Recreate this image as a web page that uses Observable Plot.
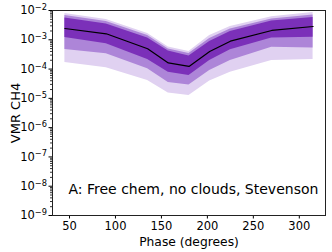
<!DOCTYPE html>
<html>
<head>
<meta charset="utf-8">
<script src="https://cdn.jsdelivr.net/npm/d3@7"></script>
<script src="https://cdn.jsdelivr.net/npm/@observablehq/plot@0.6"></script>
<style>
  html, body { margin: 0; padding: 0; background: #fff; }
  #chart svg { display: block; }
</style>
</head>
<body>
<div id="chart"></div>
<script>
// Phase (degrees)
const phase  = [45, 90, 135, 157.5, 180, 202.5, 225, 270, 315];
// VMR CH4 retrieved: median and credible intervals
const median = [2.43e-3, 1.60e-3, 4.93e-4, 1.62e-4, 1.23e-4, 3.99e-4, 8.96e-4, 2.08e-3, 2.84e-3];
const hi1    = [5.55e-3, 3.46e-3, 1.15e-3, 4.15e-4, 2.80e-4, 8.75e-4, 1.92e-3, 4.38e-3, 5.77e-3];
const lo1    = [1.20e-3, 7.30e-4, 2.13e-4, 7.80e-5, 6.05e-5, 1.97e-4, 4.56e-4, 1.15e-3, 1.23e-3];
const hi2    = [6.75e-3, 4.21e-3, 1.40e-3, 4.85e-4, 3.40e-4, 1.11e-3, 2.34e-3, 5.13e-3, 7.00e-3];
const lo2    = [4.67e-4, 3.33e-4, 1.02e-4, 3.49e-5, 2.86e-5, 8.96e-5, 1.97e-4, 5.59e-4, 5.25e-4];
const hi3    = [7.90e-3, 4.93e-3, 1.64e-3, 5.68e-4, 3.99e-4, 1.40e-3, 2.84e-3, 6.10e-3, 8.50e-3];
const lo3    = [1.68e-4, 1.11e-4, 4.08e-5, 1.53e-5, 1.26e-5, 3.93e-5, 7.83e-5, 1.97e-4, 2.13e-4];

const xTicks = [50, 100, 150, 200, 250, 300];
const yTicks = [1e-9, 1e-8, 1e-7, 1e-6, 1e-5, 1e-4, 1e-3, 1e-2];
const yTickExponents = ["−9", "−8", "−7", "−6", "−5", "−4", "−3", "−2"];
const annotation = "A: Free chem, no clouds, Stevenson";

const rows = phase.map((p, i) => ({
  phase: p, median: median[i],
  lo1: lo1[i], hi1: hi1[i], lo2: lo2[i], hi2: hi2[i], lo3: lo3[i], hi3: hi3[i]
}));

const yMinor = [];
for (let e = -9; e < -2; e++) for (let m = 2; m <= 9; m++) yMinor.push(m * Math.pow(10, e));

const chart = Plot.plot({
  width: 332,
  height: 252,
  marginLeft: 52,
  marginRight: 7,
  marginTop: 10,
  marginBottom: 37,
  style: { fontFamily: "DejaVu Sans", fontSize: "12px", color: "#000", background: "#fff" },
  x: { domain: [31.5, 328.5] },
  y: { type: "log", domain: [1e-9, 1e-2] },
  marks: [
    Plot.areaY(rows, { x: "phase", y1: "lo3", y2: "hi3", fill: "#e0d1f1" }),
    Plot.areaY(rows, { x: "phase", y1: "lo2", y2: "hi2", fill: "#ad85d8" }),
    Plot.areaY(rows, { x: "phase", y1: "lo1", y2: "hi1", fill: "#7b30b9" }),
    Plot.lineY(rows, { x: "phase", y: "median", stroke: "#000", strokeWidth: 1.2 }),
    Plot.axisY(yMinor, { tickSize: 2, tickFormat: () => "", stroke: "#333" }),
    Plot.axisY({
      ticks: yTicks, tickSize: 3.5, tickPadding: 2,
      tickFormat: (d) => "10" + yTickExponents[yTicks.indexOf(d)],
      fontSize: 11.5, label: "VMR CH4", labelAnchor: "center", labelArrow: "none",
      labelOffset: 42
    }),
    Plot.axisX({
      ticks: xTicks, tickSize: 3.5, tickPadding: 3, fontSize: 11.5,
      label: "Phase (degrees)", labelAnchor: "center", labelArrow: "none", labelOffset: 30
    }),
    Plot.frame({ stroke: "#222", strokeWidth: 1 }),
    Plot.text([annotation], {
      frameAnchor: "bottom-left", dx: 16, dy: -26, textAnchor: "start", lineAnchor: "middle",
      fontSize: 14, fill: "#000"
    })
  ]
});

// render exponents as real superscript text
d3.select(chart).selectAll('g[aria-label="y-axis tick label"] text').each(function () {
  const t = this.textContent;
  if (!t.startsWith("10")) return;
  const exp = t.slice(2);
  const el = d3.select(this);
  el.text("10");
  el.append("tspan").attr("dy", "-0.5em").attr("font-size", "0.72em").text(exp);
});
// axis titles slightly larger than tick labels
d3.select(chart).selectAll('g[aria-label="y-axis label"] text').style("font-size", "13px");
d3.select(chart).selectAll('g[aria-label="x-axis label"] text').style("font-size", "12.3px");

document.getElementById("chart").appendChild(chart);
</script>
</body>
</html>
